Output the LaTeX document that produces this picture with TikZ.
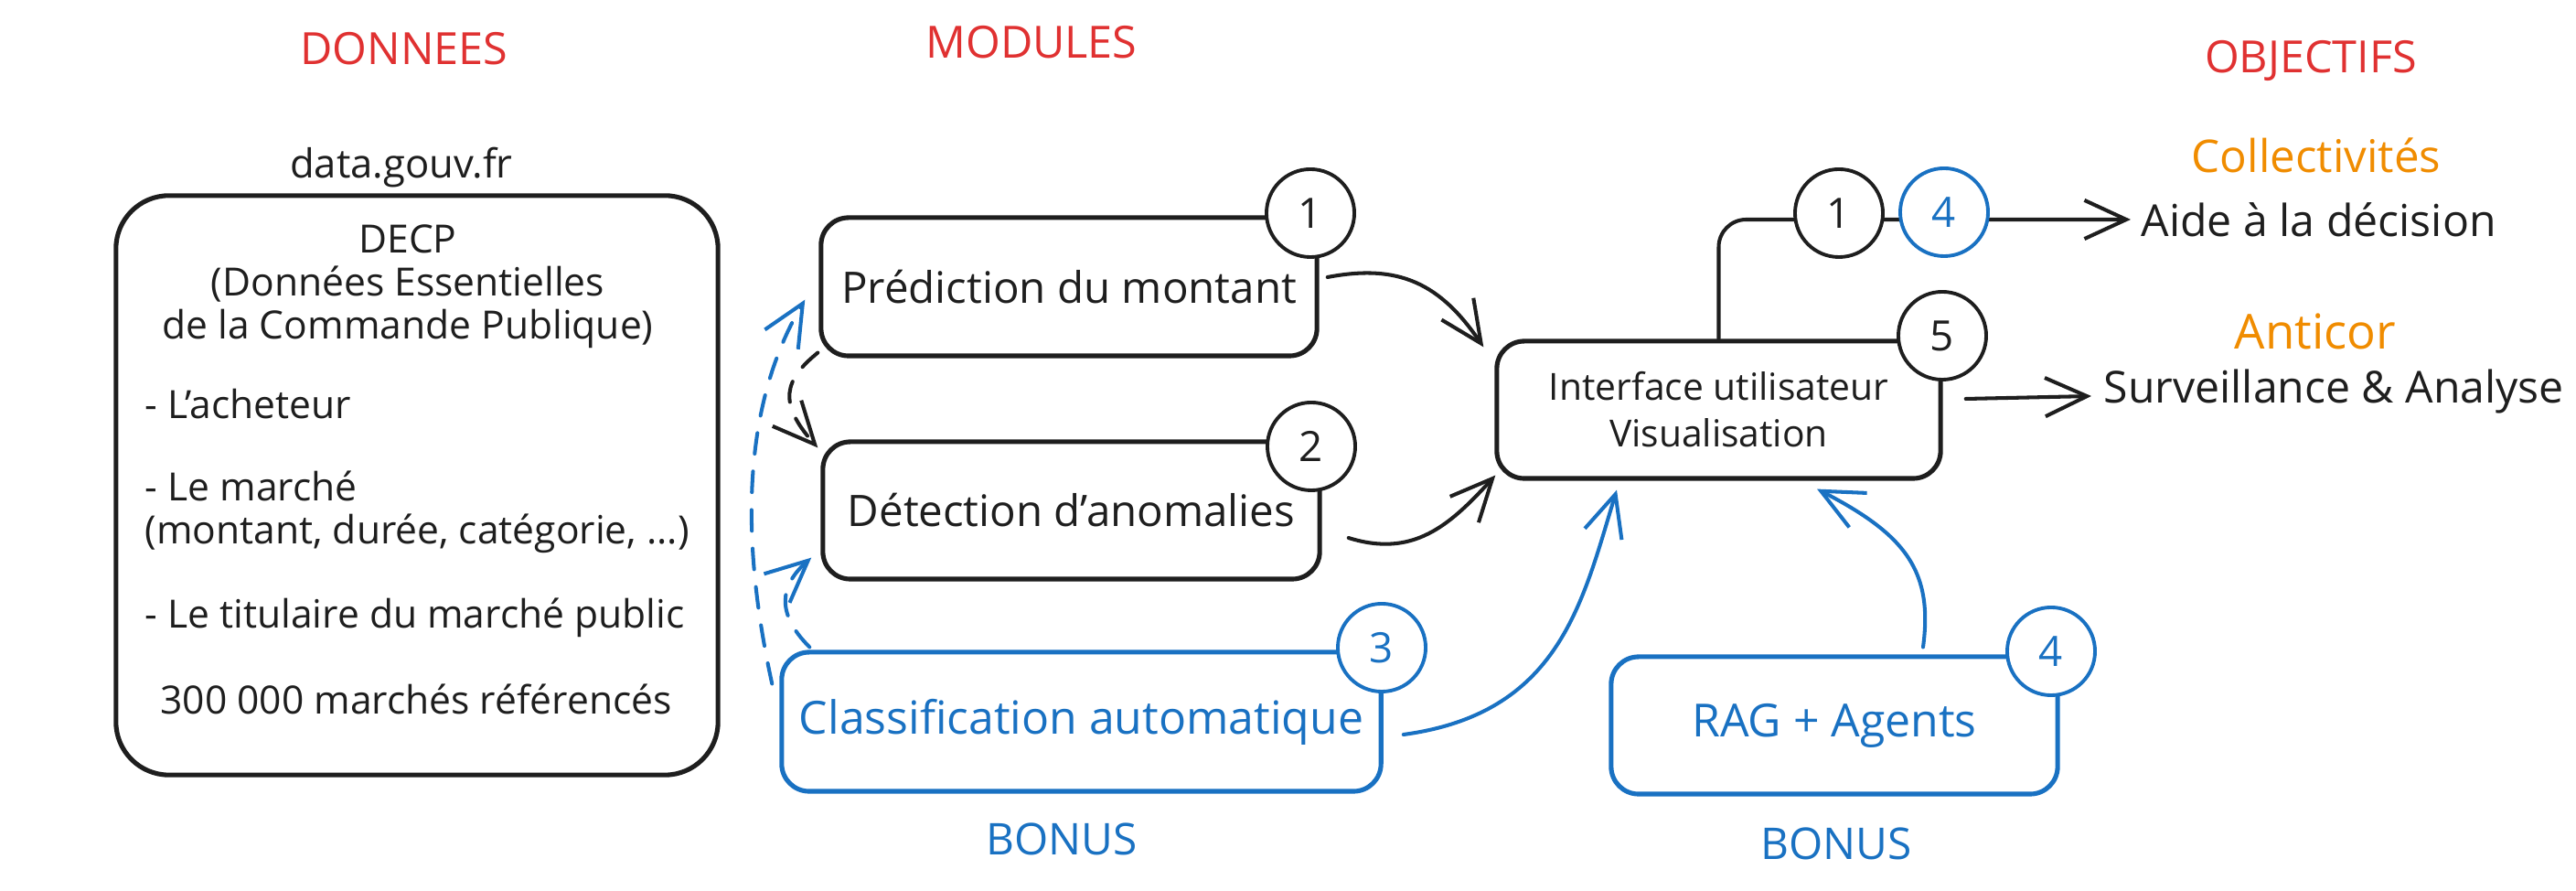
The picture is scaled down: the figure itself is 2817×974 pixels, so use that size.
\documentclass[tikz,border=0pt]{standalone}
\usepackage{fontspec}
\setmainfont{Open Sans}
\usetikzlibrary{arrows.meta,calc}
\definecolor{ink}{HTML}{1E1E1E}
\definecolor{exblue}{HTML}{1971C2}
\definecolor{exred}{HTML}{E03131}
\definecolor{exorange}{HTML}{F08C00}
\begin{document}
\begin{tikzpicture}[x=0.01cm,y=-0.01cm,
  modbox/.style={draw=ink, line width=1.45pt, rounded corners=0.3cm, inner sep=0pt, text=ink, align=center,
    font=\fontsize{13.5}{16}\selectfont},
  bluebox/.style={modbox, draw=exblue, text=exblue, font=\fontsize{14.2}{16}\selectfont},
  num/.style={circle, draw=ink, fill=white, line width=1.1pt, minimum size=0.96cm, inner sep=0pt,
    font=\fontsize{13}{15}\selectfont, text=ink},
  bnum/.style={num, draw=exblue, text=exblue},
  arr/.style={draw=ink, line width=1.15pt, line cap=round, line join=round,
    -{Straight Barb[length=13pt,width=12pt,line width=1.15pt]}},
  barr/.style={arr, draw=exblue},
  dasharr/.style={dash pattern=on 6.5pt off 5.5pt},
  title/.style={text=exred, font=\fontsize{13.8}{16}\selectfont, inner sep=0pt},
  dtxt/.style={text=ink, font=\fontsize{12.1}{13.4}\selectfont, inner sep=0pt},
  otxt/.style={text=ink, font=\fontsize{13.7}{16}\selectfont, inner sep=0pt},
  orng/.style={text=exorange, font=\fontsize{14}{16}\selectfont, inner sep=0pt},
  bonus/.style={text=exblue, font=\fontsize{13.6}{16}\selectfont, inner sep=0pt}
]
\useasboundingbox (0,0) rectangle (2817,974);
\fill[white] (0,0) rectangle (2817,974);

% titles
\node[title] (tdon) at (442,53) {DONNEES};
\node[title] (tmod) at (1128,46) {MODULES};
\node[title] (tobj) at (2527,66) {OBJECTIFS};

% data box
\node[dtxt, font=\fontsize{12.4}{15}\selectfont] (src) at (439,183) {data.gouv.fr};
\node[draw=ink, line width=1.45pt, rounded corners=0.58cm, minimum width=6.58cm, minimum height=6.33cm, inner sep=0pt] (data) at (456,530.5) {};
\node[dtxt, align=center] (decp) at (446,313) {DECP\\(Données Essentielles\\de la Commande Publique)};
\node[dtxt, anchor=west] (l1) at (158,442) {- L’acheteur};
\node[dtxt, anchor=west, align=left] (l2) at (158,559.5) {- Le marché\\(montant, durée, catégorie, ...)};
\node[dtxt, anchor=west] (l3) at (158,675) {- Le titulaire du marché public};
\node[dtxt] (l4) at (455,764) {300 000 marchés référencés};

% modules
\node[modbox, minimum width=5.42cm, minimum height=1.51cm] (pred) at (1169,313.5) {Prédiction du montant};
\node[modbox, minimum width=5.43cm, minimum height=1.50cm] (det) at (1171.5,558) {Détection d'anomalies};
\node[bluebox, minimum width=6.55cm, minimum height=1.52cm] (class) at (1182.5,789) {Classification automatique};
\node[modbox, minimum width=4.85cm, minimum height=1.50cm, font=\fontsize{11.6}{14.5}\selectfont] (iface) at (1879.5,448) {Interface utilisateur\\Visualisation};
\node[bluebox, minimum width=4.88cm, minimum height=1.50cm] (rag) at (2006,793) {RAG + Agents};

\node[bonus] (b1) at (1161,917) {BONUS};
\node[bonus] (b2) at (2008,922) {BONUS};

% objectives
\node[orng] (coll) at (2533,170) {Collectivités};
\node[otxt, anchor=west] (aide) at (2341,240) {Aide à la décision};
\node[orng, font=\fontsize{15}{17}\selectfont] (anti) at (2532,362) {Anticor};
\node[otxt, anchor=west] (surv) at (2300,428) {Surveillance \& Analyse};

% connectors
\draw[arr] ([shift={(9,-10.5)}]pred.east) .. controls (1530,288) and (1575,310) .. ([shift={(-12,9)}]iface.north west);
\draw[arr] ([shift={(29,30)}]det.east) .. controls (1545,610) and (1585,575) .. ([shift={(1,-6)}]iface.south west);
\draw[barr] ([shift={(22,14)}]class.east) .. controls (1705,780) and (1730,660) .. ([shift={(-111.5,10)}]iface.south);
\draw[barr] ([shift={(97,-8)}]rag.north) .. controls (2114,625) and (2085,585) .. ([shift={(107.5,9)}]iface.south);
\draw[arr, dasharr] ([shift={(-1,-6)}]pred.south west) .. controls (858,415) and (850,440) .. ([shift={(-3,9)}]det.north west);
\draw[barr, dasharr] ([shift={(-8,37)}]class.north west) .. controls (812,600) and (808,450) .. ([shift={(-15,-64)}]pred.south west);
\draw[barr, dasharr] ([shift={(33,-3)}]class.north west) .. controls (848,670) and (853,640) .. ([shift={(-10,-26)}]det.south west);
\draw[arr, rounded corners=0.3cm] (iface.north) |- ([shift={(-11,0)}]aide.west);
\draw[arr] ([shift={(25,-12)}]iface.east) -- ([shift={(-13,5)}]surv.west);

% numbered circles
\node[num] (n1) at (1433,233) {1};
\node[num] (n2) at (1434,488) {2};
\node[bnum] (n3) at (1511,708) {3};
\node[bnum] (n4) at (2243,712) {4};
\node[num] (n5) at (2124,367) {5};
\node[num] (n1b) at (2011,233) {1};
\node[bnum] (n4b) at (2126,232) {4};
\end{tikzpicture}
\end{document}
